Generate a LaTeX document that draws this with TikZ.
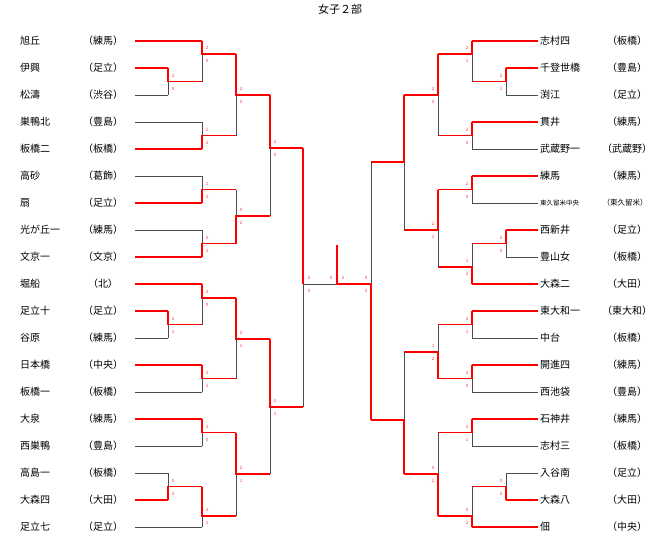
\documentclass[tikz,border=0pt]{standalone}
\usepackage{fontspec}
\setmainfont{Noto Sans CJK JP}
\usetikzlibrary{positioning}

\tikzset{
  win/.style={red, line width=1.3pt},
  lose/.style={black!70, line width=0.5pt},
  sc/.style={red!80, inner sep=0pt, font=\fontsize{4.5}{4.5}\selectfont},
  team/.style={anchor=west, inner sep=0pt, font=\fontsize{10}{10}\selectfont},
  pref/.style={inner sep=0pt, font=\fontsize{10}{10}\selectfont}
}
% match: x, next x, top y, bottom y, out y, top score, bottom score, score dx
\newcommand{\mtop}[8]{%
  \draw[win] (#1,#3) -- (#1,#5) -- (#2,#5);
  \draw[lose] (#1,#5) -- (#1,#4);
  \node[sc] at ({#1+#8},{#5-6}) {#6};
  \node[sc] at ({#1+#8},{#5+7}) {#7};}
\newcommand{\mbot}[8]{%
  \draw[win] (#1,#4) -- (#1,#5) -- (#2,#5);
  \draw[lose] (#1,#5) -- (#1,#3);
  \node[sc] at ({#1+#8},{#5-6}) {#6};
  \node[sc] at ({#1+#8},{#5+7}) {#7};}

\begin{document}
\begin{tikzpicture}[x=1pt,y=-1pt]
  \useasboundingbox (0,0) rectangle (657,536);
  \node[font=\fontsize{11}{11}\selectfont] (title) at (340,9) {女子２部};

  % left teams
  \foreach \n/\p/\x/\s [count=\i from 0] in {旭丘/練馬/202/win, 伊興/足立/168/win, 松濤/渋谷/168/lose,
      巣鴨北/豊島/202/lose, 板橋二/板橋/202/win, 高砂/葛飾/202/lose, 扇/足立/202/win,
      光が丘一/練馬/202/lose, 文京一/文京/202/win, 堀船/北/202/win, 足立十/足立/168/win,
      谷原/練馬/168/lose, 日本橋/中央/202/win, 板橋一/板橋/202/lose, 大泉/練馬/202/win,
      西巣鴨/豊島/202/lose, 高島一/板橋/168/lose, 大森四/大田/168/win, 足立七/足立/202/lose}{
    \pgfmathsetmacro\y{41+27*\i}
    \node[team] (l\i) at (20,\y) {\n};
    \node[pref] (lp\i) at (103,\y) {（\p）};
    \draw[\s] (135,\y) -- (\x,\y);
  }

  % right teams (row 6 set apart below)
  \foreach \n/\p/\x/\s/\i in {志村四/板橋/472/win/0, 千登世橋/豊島/506/win/1, 渕江/足立/506/lose/2,
      貫井/練馬/472/win/3, 武蔵野一/武蔵野/472/lose/4, 練馬/練馬/472/win/5,
      西新井/足立/506/win/7, 豊山女/板橋/506/lose/8, 大森二/大田/472/win/9, 東大和一/東大和/472/win/10,
      中台/板橋/472/lose/11, 開進四/練馬/472/win/12, 西池袋/豊島/472/lose/13, 石神井/練馬/472/win/14,
      志村三/板橋/472/lose/15, 入谷南/足立/506/lose/16, 大森八/大田/506/win/17, 佃/中央/472/win/18}{
    \pgfmathsetmacro\y{41+27*\i}
    \node[team] (r\i) at (540,\y) {\n};
    \node[pref] (rp\i) at (627,\y) {（\p）};
    \draw[\s] (538,\y) -- (\x,\y);
  }
  \node[team, font=\fontsize{6.5}{6.5}\selectfont] (r6) at (540,203) {東久留米中央};
  \node[pref, font=\fontsize{7.5}{7.5}\selectfont] (rp6) at (625,203) {（東久留米）};
  \draw[lose] (538,203) -- (472,203);

  % left bracket
  \mtop{168}{202}{68}{95}{81.5}{2}{0}{5}
  \mtop{168}{202}{311}{338}{324.5}{2}{1}{5}
  \mbot{168}{202}{473}{500}{486.5}{0}{2}{5}
  \mtop{202}{236}{41}{81.5}{54}{2}{0}{5}
  \mbot{202}{236}{122}{149}{135.5}{1}{2}{5}
  \mbot{202}{236}{176}{203}{189.5}{1}{2}{5}
  \mbot{202}{236}{230}{257}{243.5}{0}{2}{5}
  \mtop{202}{236}{284}{324.5}{298}{2}{0}{5}
  \mtop{202}{236}{365}{392}{378.5}{2}{1}{5}
  \mtop{202}{236}{419}{446}{432.5}{2}{0}{5}
  \mtop{202}{236}{486.5}{527}{516}{2}{1}{5}
  \mtop{236}{270}{54}{135.5}{95}{2}{0}{5}
  \mbot{236}{270}{189.5}{243.5}{216}{0}{2}{5}
  \mtop{236}{270}{298}{378.5}{339}{2}{1}{5}
  \mtop{236}{270}{432.5}{516}{474}{2}{1}{5}
  \mtop{270}{303}{95}{216}{148}{2}{0}{5}
  \mtop{270}{303}{339}{474}{407}{2}{1}{5}
  \draw[win] (303,148) -- (303,284);
  \draw[lose] (303,284) -- (303,407);
  \node[sc] at (309,278) {2};
  \node[sc] at (309,291) {0};

  % right bracket
  \mtop{506}{472}{68}{95}{81.5}{2}{1}{-5}
  \mtop{506}{472}{230}{257}{243.5}{2}{0}{-5}
  \mbot{506}{472}{473}{500}{486.5}{0}{2}{-5}
  \mtop{472}{438}{41}{81.5}{54}{2}{1}{-5}
  \mtop{472}{438}{122}{149}{135.5}{2}{0}{-5}
  \mtop{472}{438}{176}{203}{189.5}{2}{0}{-5}
  \mbot{472}{438}{243.5}{284}{267}{1}{2}{-5}
  \mtop{472}{438}{311}{338}{324.5}{2}{1}{-5}
  \mtop{472}{438}{365}{392}{378.5}{2}{0}{-5}
  \mtop{472}{438}{419}{446}{432.5}{2}{1}{-5}
  \mbot{472}{438}{486.5}{527}{516}{0}{2}{-5}
  \mtop{438}{404}{54}{135.5}{95}{2}{0}{-5}
  \mtop{438}{404}{189.5}{267}{230}{2}{1}{-5}
  \mbot{438}{404}{324.5}{378.5}{352}{1}{2}{-5}
  \mbot{438}{404}{432.5}{516}{474}{0}{2}{-5}
  \draw[win] (404,95) -- (404,162) -- (371,162);
  \draw[lose] (404,162) -- (404,230);
  \draw[win] (404,474) -- (404,420) -- (371,420);
  \draw[lose] (404,420) -- (404,352);
  \draw[win] (371,420) -- (371,284);
  \draw[lose] (371,284) -- (371,162);
  \node[sc] at (366,278) {0};
  \node[sc] at (366,291) {2};

  % final
  \coordinate (fin) at (337,284);
  \coordinate (top) at (337,245);
  \draw[lose] (303,284) -- (fin);
  \draw[win] (371,284) -- (fin) -- (top);
  \node[sc] at (331,278) {0};
  \node[sc] at (343,278) {2};
\end{tikzpicture}
\end{document}
